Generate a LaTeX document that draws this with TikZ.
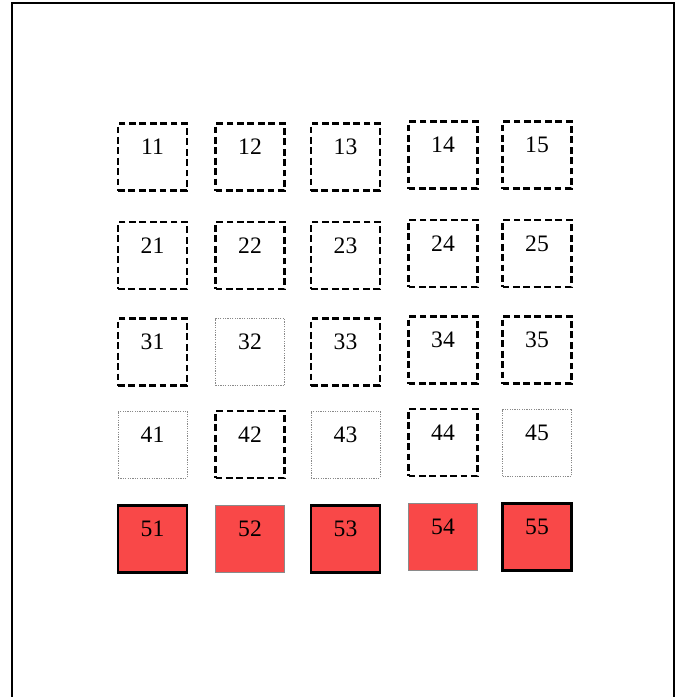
\documentclass[tikz,border=0pt]{standalone}
\usepackage{fontspec}
\setmainfont{Liberation Serif}
\definecolor{cellred}{HTML}{F94848}
\definecolor{dotgray}{HTML}{8A8A8A}
\tikzset{
  cell/.style={minimum width=34.5pt, minimum height=33.5pt, inner sep=0pt,
               text height=8pt, text depth=10.5pt,
               font=\fontsize{11.8}{14}\selectfont},
  dashcell/.style={cell, draw, line width=1.1pt, dash pattern=on 3.4pt off 1.8pt},
  dotcell/.style={cell, draw=dotgray, line width=0.45pt, dash pattern=on 0.6pt off 0.6pt},
  redcell/.style={cell, fill=cellred, draw, line width=1.1pt},
  redcellthin/.style={cell, fill=cellred, draw=dotgray, line width=0.45pt},
}

\begin{document}
\begin{tikzpicture}[x=0.5pt, y=0.5pt]
    \useasboundingbox (0,0) rectangle (679,-697);
    % frame
    \draw[line width=1pt] (12,-697) -- (12,-2.5) -- (673.5,-2.5) -- (673.5,-697);
    % row 1
    \node[dashcell] (c11) at (152.5,-157) {11};
    \node[dashcell] (c12) at (250,-157) {12};
    \node[dashcell] (c13) at (345.5,-157) {13};
    \node[dashcell] (c14) at (443,-155) {14};
    \node[dashcell] (c15) at (537,-155) {15};
    % row 2
    \node[dashcell] (c21) at (152.5,-255.5) {21};
    \node[dashcell] (c22) at (250,-255.5) {22};
    \node[dashcell] (c23) at (345.5,-255.5) {23};
    \node[dashcell] (c24) at (443,-253.5) {24};
    \node[dashcell] (c25) at (537,-253.5) {25};
    % row 3
    \node[dashcell] (c31) at (152.5,-352) {31};
    \node[dotcell]  (c32) at (250,-352) {32};
    \node[dashcell] (c33) at (345.5,-352) {33};
    \node[dashcell] (c34) at (443,-350) {34};
    \node[dashcell] (c35) at (537,-350) {35};
    % row 4
    \node[dotcell]  (c41) at (152.5,-444.5) {41};
    \node[dashcell] (c42) at (250,-444.5) {42};
    \node[dotcell]  (c43) at (345.5,-444.5) {43};
    \node[dashcell] (c44) at (443,-442.5) {44};
    \node[dotcell]  (c45) at (537,-442.5) {45};
    % row 5
    \node[redcell]     (c51) at (152.5,-539) {51};
    \node[redcellthin] (c52) at (250,-539) {52};
    \node[redcell]     (c53) at (345.5,-539) {53};
    \node[redcellthin] (c54) at (443,-537) {54};
    \node[redcell]     (c55) at (537,-537) {55};
\end{tikzpicture}
\end{document}
